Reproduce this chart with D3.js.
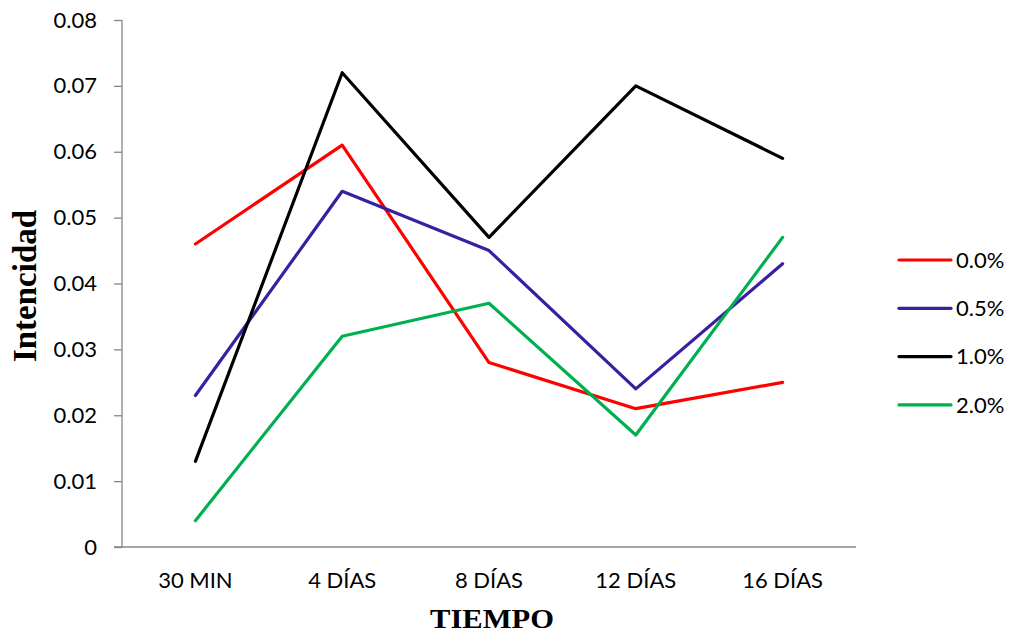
<!DOCTYPE html>
<html><head><meta charset="utf-8">
<script src="https://cdn.jsdelivr.net/npm/d3@7"></script>
<style>body{margin:0;background:#fff}svg{display:block}</style>
</head><body><svg id="c" width="1011" height="635"></svg>
<script>
const categories = ["30 MIN", "4 DÍAS", "8 DÍAS", "12 DÍAS", "16 DÍAS"];
const seriesNames = ["0.0%", "0.5%", "1.0%", "2.0%"];
const s00 = [0.046, 0.061, 0.028, 0.021, 0.025];
const s05 = [0.023, 0.054, 0.045, 0.024, 0.043];
const s10 = [0.013, 0.072, 0.047, 0.070, 0.059];
const s20 = [0.004, 0.032, 0.037, 0.017, 0.047];
const yTicks = [0, 0.01, 0.02, 0.03, 0.04, 0.05, 0.06, 0.07, 0.08];
const colors = ["#ff0000", "#3a1fa0", "#000000", "#00b050"];
const series = [s00, s05, s10, s20];

const svg = d3.select("#c");
const font = "Lato, 'Open Sans', sans-serif";
const serif = "'Liberation Serif', 'Times New Roman', serif";
const x = d3.scaleBand().domain(categories).range([122, 856]);
const y = d3.scaleLinear().domain([0, 0.08]).range([547, 20]);

// y axis
const ya = svg.append("g").attr("transform", "translate(122,0)")
  .call(d3.axisLeft(y).tickValues(yTicks).tickSize(8).tickPadding(17)
    .tickFormat(d => d === 0 ? "0" : d3.format(".2f")(d)));
ya.select(".domain").attr("stroke", "#868686").attr("stroke-width", 1.3).attr("d", "M0,20V547");
ya.selectAll(".tick line").attr("stroke", "#868686").attr("stroke-width", 1.3);
ya.selectAll("text").attr("font-family", font).attr("font-size", 22).attr("fill", "#000");

// x axis
const xa = svg.append("g").attr("transform", "translate(0,547)")
  .call(d3.axisBottom(x).tickSize(0).tickPadding(25));
xa.select(".domain").attr("stroke", "#868686").attr("stroke-width", 1.3).attr("d", "M114,0H856");
xa.selectAll("text").attr("font-family", font).attr("font-size", 22).attr("fill", "#000");

// lines
const line = d3.line().x((d, i) => x(categories[i]) + x.bandwidth() / 2).y(d => y(d));
series.forEach((s, k) => {
  svg.append("path").datum(s).attr("d", line).attr("fill", "none")
    .attr("stroke", colors[k]).attr("stroke-width", 3.2).attr("stroke-linejoin", "round").attr("stroke-linecap", "round");
});

// legend
const lg = svg.append("g");
seriesNames.forEach((n, k) => {
  const yy = 260 + k * 48.3;
  lg.append("line").attr("x1", 899).attr("x2", 951).attr("y1", yy).attr("y2", yy)
    .attr("stroke", colors[k]).attr("stroke-width", 3.2).attr("stroke-linecap", "round");
  lg.append("text").attr("x", 956).attr("y", yy).attr("dy", "0.35em")
    .attr("font-family", font).attr("font-size", 22).text(n);
});

// axis titles
svg.append("text").attr("transform", "translate(36,286) rotate(-90)").attr("text-anchor", "middle")
  .attr("font-family", serif).attr("font-weight", "bold")
  .attr("font-size", 33).text("Intencidad");
svg.append("text").attr("x", 430).attr("y", 628)
  .attr("font-family", serif).attr("font-weight", "bold")
  .attr("font-size", 28).attr("textLength", 124).attr("lengthAdjust", "spacingAndGlyphs").text("TIEMPO");
</script></body></html>
